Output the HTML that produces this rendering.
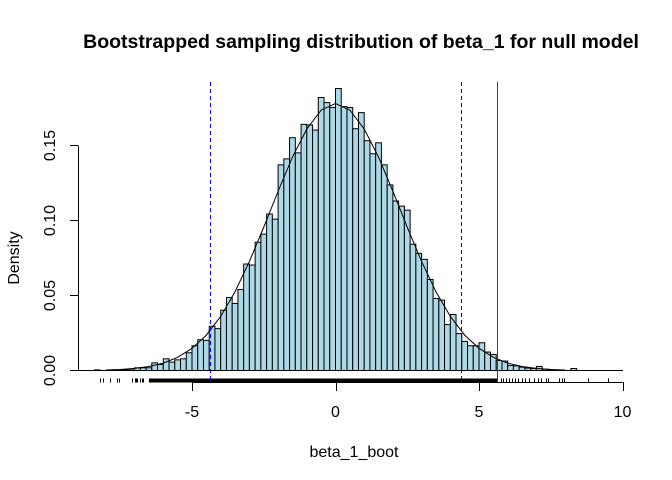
<!DOCTYPE html>
<html><head><meta charset="utf-8"><style>
html,body{margin:0;padding:0;background:#fff}
svg{display:block;font-family:"Liberation Sans",Arial,sans-serif}
</style></head><body>
<svg id="chart" width="672" height="480" viewBox="0 0 672 480">
<text x="361" y="48" text-anchor="middle" font-weight="bold" font-size="19.5">Bootstrapped sampling distribution of beta_1 for null model</text>
<text x="354" y="457" text-anchor="middle" font-size="16">beta_1_boot</text>
<text transform="translate(19,258) rotate(-90)" text-anchor="middle" font-size="16">Density</text>
<g id="bars"></g>
<g id="curve"></g>
<g id="rug"></g>
<g id="vlines"></g>
<g id="xaxis"></g>
<g id="yaxis"></g>
</svg>
<script>
const binStart = -8.4;
const binWidth = 0.2;
const densities = [0.0004,0,0,0.0004,0.0004,0.0004,0.0004,0.0018,0.0018,0.0018,0.0051,0.0040,0.0078,0.0056,0.0071,0.0078,0.0118,0.0165,0.0205,0.0201,0.0295,0.0279,0.0402,0.0487,0.0447,0.0540,0.0710,0.0703,0.0855,0.0909,0.1043,0.1009,0.1371,0.1411,0.1552,0.1451,0.1641,0.1637,0.1603,0.1820,0.1786,0.1753,
0.1880,0.1759,0.1753,0.1612,0.1719,0.1532,0.1445,0.1518,0.1371,0.1237,0.1130,0.1096,0.1069,0.0842,0.0781,0.0741,0.0607,0.0480,0.0469,0.0306,0.0373,0.0246,0.0194,0.0165,0.0165,0.0185,0.0123,0.0107,0.0067,0.0063,0.0033,0.0031,0.0022,0.0016,0.0013,0.0027,0.0009,0.0004,0,0,0,0.0013];
const curveX = [-8,-7.5,-7,-6.5,-6,-5.5,-5,-4.5,-4,-3.5,-3,-2.5,-2,-1.5,-1,-0.5,0,0.5,1,1.5,2,2.5,3,3.5,4,4.5,5,5.5,6,6.5,7,7.5,8];
const curveY = [0.0003,0.0007,0.0014,0.0027,0.0049,0.0088,0.0148,0.0236,0.0361,0.0525,0.0727,0.0955,0.1195,0.1423,0.161,0.1736,0.178,0.1736,0.161,0.1423,0.1195,0.0955,0.0727,0.0525,0.0361,0.0236,0.0148,0.0088,0.0049,0.0027,0.0014,0.0007,0.0003];
const ciBounds = [-4.37, 4.39];
const observed = 5.63;
const rugSparse = [-8.2,-8.1,-7.85,-7.6,-7.55,-7.1,-7.0,-6.95,-6.9,-6.8,-6.75,-6.7,5.75,5.85,5.95,6.05,6.15,6.25,6.35,6.5,6.6,6.75,6.9,7.05,7.15,7.35,7.42,7.8,7.88,7.95,8.8,9.5];
const rugDense = [-6.5, 5.65];
const xTicks = [-5,0,5,10];
const yTicks = [0,0.05,0.10,0.15];
const yTickLabels = ["0.00","0.05","0.10","0.15"];

const NS="http://www.w3.org/2000/svg";
const xs = v => 335.5 + v*28.7;
const ys = v => 370.5 - v*1500;
const px = v => Math.round(xs(v))+0.5;
function mk(tag, attrs, parent){const e=document.createElementNS(NS,tag);for(const k in attrs)e.setAttribute(k,attrs[k]);parent.appendChild(e);return e;}

const gb=document.getElementById('bars');
densities.forEach((d,i)=>{
  if(d<=0) return;
  const x0=xs(binStart+i*binWidth), x1=xs(binStart+(i+1)*binWidth);
  const r=mk('rect',{x:x0,y:ys(d),width:x1-x0,height:ys(0)-ys(d),fill:'#add8e6',stroke:'#000','stroke-width':1},gb);
  
  
});
mk('line',{x1:78,x2:623,y1:ys(0),y2:ys(0),stroke:'#000','stroke-width':1},gb);

const gc=document.getElementById('curve');
const pl=mk('polyline',{points:curveX.map((x,i)=>xs(x)+','+ys(curveY[i])).join(' '),fill:'none',stroke:'#000','stroke-width':1},gc);



const gr=document.getElementById('rug');
mk('rect',{x:xs(rugDense[0]),y:378.5,width:xs(rugDense[1])-xs(rugDense[0]),height:4,fill:'#000'},gr);
rugSparse.forEach(v=>{mk('line',{x1:px(v),x2:px(v),y1:378.5,y2:382.5,stroke:'#000','stroke-width':1},gr);});

const gv=document.getElementById('vlines');
ciBounds.forEach(v=>{
  const l=mk('line',{x1:px(v),x2:px(v),y1:82,y2:382,stroke:'#0000ff','stroke-width':1,'stroke-dasharray':'4,3'},gv);
  
  
});
const ol=mk('line',{x1:px(observed),x2:px(observed),y1:82,y2:382,stroke:'#dd0000','stroke-width':1},gv);



const gx=document.getElementById('xaxis');
mk('line',{x1:xs(xTicks[0]),x2:xs(xTicks[xTicks.length-1]),y1:382.5,y2:382.5,stroke:'#000'},gx);
xTicks.forEach(t=>{
  mk('line',{x1:px(t),x2:px(t),y1:382,y2:391,stroke:'#000'},gx);
  const tx=mk('text',{x:xs(t),y:417,'text-anchor':'middle','font-size':16},gx);
  tx.textContent=(t<0?'-'+Math.abs(t):t);
  
  
});

const gy=document.getElementById('yaxis');
mk('line',{x1:78.5,x2:78.5,y1:ys(yTicks[0]),y2:ys(yTicks[yTicks.length-1]),stroke:'#000'},gy);
yTicks.forEach((t,i)=>{
  mk('line',{x1:70,x2:78,y1:ys(t),y2:ys(t),stroke:'#000'},gy);
  const tx=mk('text',{transform:'translate(55,'+ys(t)+') rotate(-90)','text-anchor':'middle','font-size':16},gy);
  tx.textContent=yTickLabels[i];
  
  
});
</script>
</body></html>
